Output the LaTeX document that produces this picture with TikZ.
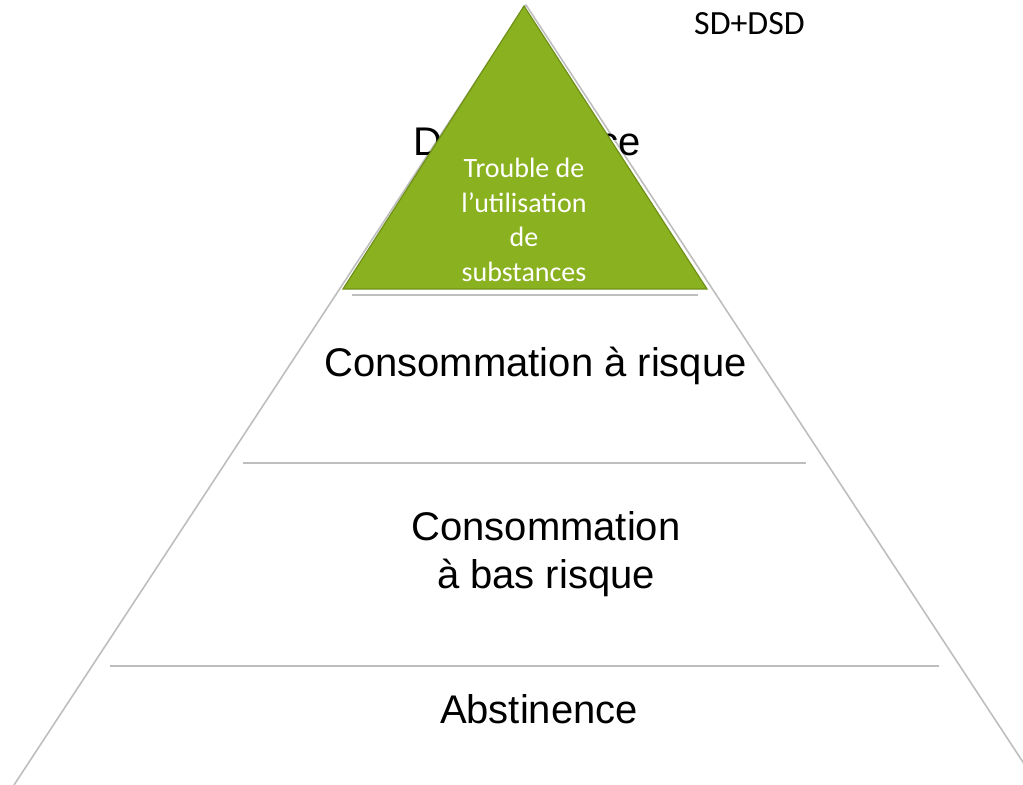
\documentclass[tikz,border=0pt]{standalone}
\usepackage{fontspec}
\setmainfont{Liberation Sans}
\newfontfamily\calib{Carlito}
\definecolor{pyrgray}{RGB}{190,190,190}
\definecolor{leaf}{RGB}{138,177,31}
\definecolor{leafdark}{RGB}{112,145,24}
\begin{document}
\begin{tikzpicture}[x=1bp,y=-1bp,
  edge/.style={draw=pyrgray, line width=1.6bp, line join=round},
  big/.style={font=\fontsize{40.15}{47.2}\selectfont, inner sep=0, align=center, anchor=base},
  tri/.style={font=\calib\fontsize{28.1}{34.5}\selectfont, text=white, inner sep=0, align=center, anchor=base},
  small/.style={font=\calib\fontsize{34}{40}\selectfont, inner sep=0, anchor=base}]
\useasboundingbox (0,0) rectangle (1023,785);
\clip (0,0) rectangle (1023,785);
% pyramid outline
\coordinate (apex) at (526,5);
\coordinate (bl) at (14,785);
\coordinate (br) at (1038,785);
\draw[edge] (bl) -- (apex) -- (br);
% level separators
\draw[edge] (352,295) -- (698,295);
\draw[edge] (243,463) -- (806,463);
\draw[edge] (110,666) -- (939,666);
% labels
\node[small] (sd) at (749.5,35) {SD+DSD};
\node[big] (dep) at (527,155) {Dépendance};
\node[big] (risk) at (535.5,376) {Consommation à risque};
\node[big] (low) at (546,588) {Consommation\\à bas risque};
\node[big] (abs) at (539,723) {Abstinence};
% green triangle on top
\draw[fill=leaf, draw=leafdark, line width=1.2bp, line join=miter] (524,6) -- (707,289) -- (343,289) -- cycle;
\node[tri] (tus) at (524,281) {Trouble de\\l’utilisation\\de\\substances};
\end{tikzpicture}
\end{document}
